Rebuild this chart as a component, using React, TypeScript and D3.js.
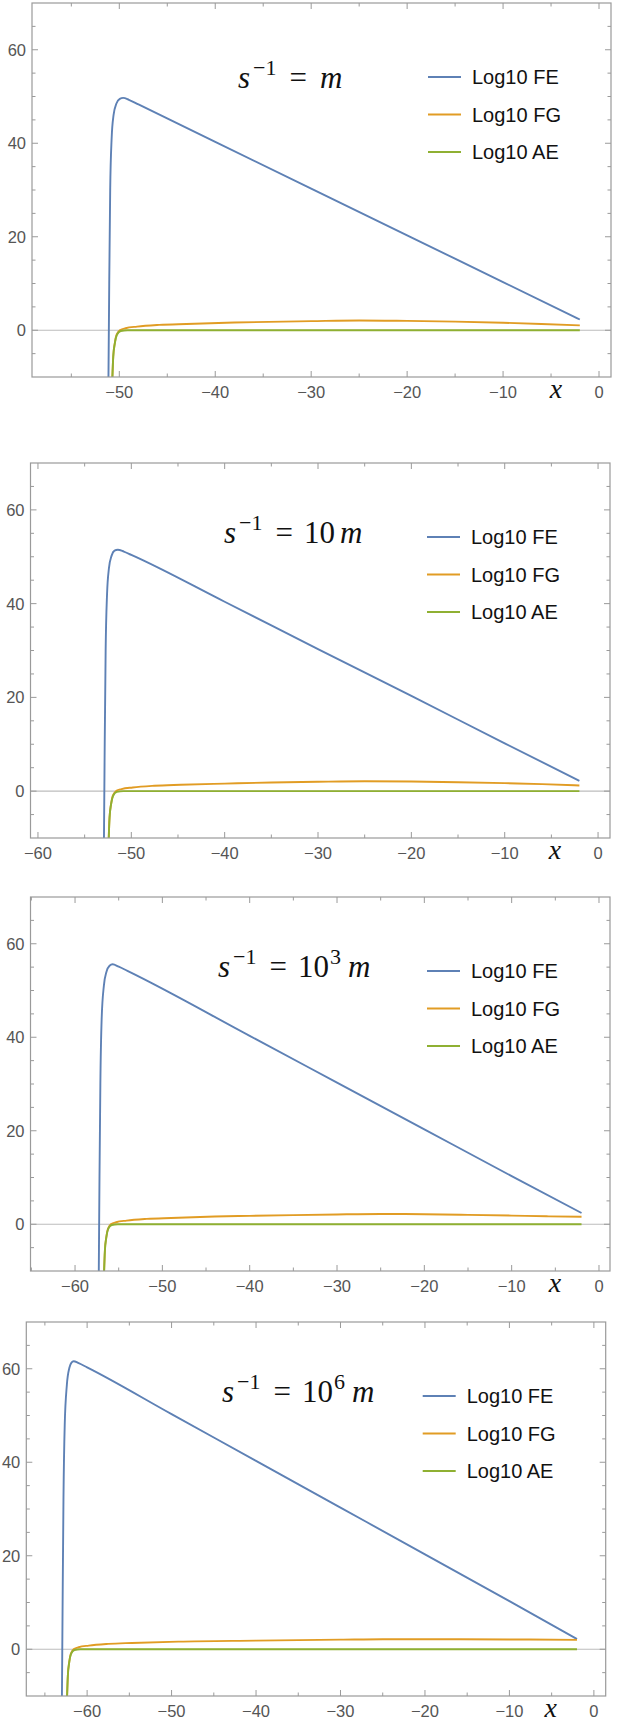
import React, { useEffect, useRef } from 'react';
import * as d3 from 'd3';

type Pt = [number, number];

// series labels and colours (Mathematica default palette)
const seriesNames = ['Log10 FE', 'Log10 FG', 'Log10 AE'];
const seriesColors = ['#5e81b5', '#e19c24', '#8fb032'];

// title pieces: s^-1 = <coef>^<exp> m
const titleCoef = ['', '10', '10', '10'];
const titleExp = ['', '', '3', '6'];

const xDomains: [number, number][] = [[-59.1, 1.25], [-60.8, 1.28], [-65.1, 1.26], [-67.2, 1.4]];
const yDomain: [number, number] = [-10, 70];
const yLabelTicks = [0, 20, 40, 60];

// s^-1 = m
const fe1: Pt[] = [[-51.15, -15], [-51.05, 10], [-50.95, 30], [-50.8, 41], [-50.6, 46], [-50.3, 48.5], [-49.95, 49.5], [-49.6, 49.7], [-49.0, 49.3], [-48, 48.3], [-40, 40.3], [-30, 30.3], [-20, 20.3], [-10, 10.3], [-2, 2.3]];
const fg1: Pt[] = [[-50.8, -15], [-50.63, -5.6], [-50.47, -2.8], [-50.27, -0.9], [-49.9, 0.05], [-49.35, 0.43], [-48.15, 0.78], [-45.85, 1.14], [-43, 1.35], [-38, 1.65], [-30, 1.95], [-25, 2.1], [-20, 2.0], [-15, 1.85], [-10, 1.6], [-6, 1.35], [-2, 1.05]];
const ae1: Pt[] = [[-50.8, -15], [-50.63, -5.6], [-50.47, -2.8], [-50.25, -1.0], [-49.85, -0.15], [-49.15, 0], [-2, 0]];

// s^-1 = 10 m
const fe2: Pt[] = [[-52.95, -15], [-52.85, 10], [-52.75, 30], [-52.6, 42], [-52.4, 47.5], [-52.1, 50.3], [-51.8, 51.3], [-51.45, 51.5], [-50.8, 51.1], [-50, 50.4], [-40, 40.4], [-30, 30.3], [-20, 20.3], [-10, 10.2], [-2, 2.2]];
const fg2: Pt[] = [[-52.5, -15], [-52.33, -5.6], [-52.17, -2.8], [-51.97, -0.9], [-51.6, 0.05], [-51.05, 0.43], [-49.85, 0.78], [-47.55, 1.14], [-44.7, 1.35], [-40, 1.6], [-35, 1.85], [-30, 2.0], [-25, 2.1], [-20, 2.05], [-15, 1.9], [-10, 1.7], [-6, 1.5], [-2, 1.2]];
const ae2: Pt[] = [[-52.5, -15], [-52.33, -5.6], [-52.17, -2.8], [-51.95, -1.0], [-51.55, -0.15], [-50.85, 0], [-2, 0]];

// s^-1 = 10^3 m
const fe3: Pt[] = [[-57.3, -15], [-57.2, 10], [-57.1, 30], [-56.95, 44], [-56.7, 51], [-56.4, 54], [-56.05, 55.3], [-55.7, 55.6], [-55, 55.1], [-54, 54.2], [-40, 40.3], [-30, 30.3], [-20, 20.3], [-10, 10.3], [-2, 2.4]];
const fg3: Pt[] = [[-56.75, -15], [-56.58, -5.6], [-56.42, -2.8], [-56.22, -0.9], [-55.85, 0.05], [-55.3, 0.43], [-54.1, 0.78], [-51.8, 1.14], [-49, 1.35], [-44, 1.65], [-40, 1.8], [-35, 1.95], [-30, 2.1], [-25, 2.2], [-20, 2.15], [-15, 2.0], [-10, 1.85], [-6, 1.7], [-2, 1.6]];
const ae3: Pt[] = [[-56.75, -15], [-56.58, -5.6], [-56.42, -2.8], [-56.2, -1.0], [-55.8, -0.15], [-55.1, 0], [-2, 0]];

// s^-1 = 10^6 m
const fe4: Pt[] = [[-63.0, -15], [-62.9, 10], [-62.8, 32], [-62.65, 48], [-62.4, 56.5], [-62.1, 60.2], [-61.85, 61.3], [-61.6, 61.6], [-61, 61.2], [-60, 60.3], [-50, 50.3], [-40, 40.3], [-30, 30.3], [-20, 20.3], [-10, 10.3], [-2, 2.2]];
const fg4: Pt[] = [[-62.45, -15], [-62.28, -5.6], [-62.12, -2.8], [-61.92, -0.9], [-61.55, 0.05], [-61.0, 0.43], [-59.8, 0.78], [-57.5, 1.14], [-54.7, 1.35], [-49.2, 1.64], [-40, 1.85], [-30, 2.05], [-25, 2.15], [-20, 2.15], [-10, 2.1], [-2, 2.0]];
const ae4: Pt[] = [[-62.45, -15], [-62.28, -5.6], [-62.12, -2.8], [-61.9, -1.0], [-61.5, -0.15], [-60.8, 0], [-2, 0]];

const panelSeries: Pt[][][] = [[fe1, fg1, ae1], [fe2, fg2, ae2], [fe3, fg3, ae3], [fe4, fg4, ae4]];

// frame boxes in page pixels
const frames = [
  { left: 32, right: 611, top: 3, bottom: 377, titleX: 238, titleY: 88 },
  { left: 30.5, right: 610, top: 463, bottom: 838, titleX: 224, titleY: 543 },
  { left: 30.5, right: 610, top: 897, bottom: 1271, titleX: 218, titleY: 977 },
  { left: 26.3, right: 605.7, top: 1322, bottom: 1696, titleX: 222, titleY: 1402 },
];

const W = 621;
const H = 1730;

export default function App() {
  const svgRef = useRef<SVGSVGElement>(null);

  useEffect(() => {
    if (!svgRef.current) return;
    const svg = d3.select(svgRef.current);
    svg.selectAll('*').remove();

    const colors = { frame: '#9a9a9a', axis: '#bdbdbd', tick: '#555555', text: '#111111' };
    const sans = '"Liberation Sans", Arial, sans-serif';
    const serif = '"Liberation Serif", "Times New Roman", serif';

    frames.forEach((f, i) => {
      const x = d3.scaleLinear().domain(xDomains[i]).range([f.left, f.right]);
      const y = d3.scaleLinear().domain(yDomain).range([f.bottom, f.top]);
      const g = svg.append('g');

      const clipId = `clip-${i}`;
      g.append('clipPath').attr('id', clipId)
        .append('rect').attr('x', f.left).attr('y', f.top).attr('width', f.right - f.left).attr('height', f.bottom - f.top);

      // horizontal axis at y = 0
      g.append('line').attr('x1', f.left).attr('x2', f.right).attr('y1', y(0)).attr('y2', y(0))
        .attr('stroke', colors.axis).attr('stroke-width', 1.2);

      const line = d3.line<Pt>().x(d => x(d[0])).y(d => y(d[1])).curve(d3.curveMonotoneX);
      const lines = g.append('g').attr('clip-path', `url(#${clipId})`);
      panelSeries[i].forEach((s, k) => {
        lines.append('path').attr('d', line(s)!).attr('fill', 'none')
          .attr('stroke', seriesColors[k]).attr('stroke-width', 1.9).attr('stroke-linejoin', 'round');
      });

      // frame
      g.append('rect').attr('x', f.left).attr('y', f.top).attr('width', f.right - f.left).attr('height', f.bottom - f.top)
        .attr('fill', 'none').attr('stroke', colors.frame).attr('stroke-width', 1.2);

      // ticks inside frame on all four sides
      const [x0, x1] = xDomains[i];
      const xTicks = d3.range(-70, 1, 5).filter(v => v >= x0 && v <= x1);
      const yTicks = d3.range(-10, 71, 5).filter(v => v > yDomain[0] && v < yDomain[1]);
      const tk = g.append('g').attr('stroke', colors.frame).attr('stroke-width', 1);
      xTicks.forEach(v => {
        const len = v % 10 === 0 ? 6 : 3.5;
        tk.append('line').attr('x1', x(v)).attr('x2', x(v)).attr('y1', f.bottom).attr('y2', f.bottom - len);
        tk.append('line').attr('x1', x(v)).attr('x2', x(v)).attr('y1', f.top).attr('y2', f.top + len);
      });
      yTicks.forEach(v => {
        const len = v % 20 === 0 ? 6 : 3.5;
        tk.append('line').attr('y1', y(v)).attr('y2', y(v)).attr('x1', f.left).attr('x2', f.left + len);
        tk.append('line').attr('y1', y(v)).attr('y2', y(v)).attr('x1', f.right).attr('x2', f.right - len);
      });

      // tick labels
      xTicks.filter(v => v % 10 === 0).forEach(v => {
        g.append('text').attr('x', x(v)).attr('y', f.bottom + 21).attr('text-anchor', 'middle')
          .attr('fill', colors.tick).style('font-family', sans).style('font-size', '16.5px')
          .text(v < 0 ? `\u2212${-v}` : `${v}`);
      });
      yLabelTicks.forEach(v => {
        g.append('text').attr('x', f.left - 6).attr('y', y(v) + 6).attr('text-anchor', 'end')
          .attr('fill', colors.tick).style('font-family', sans).style('font-size', '16.5px')
          .text(`${v}`);
      });

      // x axis label
      g.append('text').attr('x', f.right - 55).attr('y', f.bottom + 21).attr('text-anchor', 'middle')
        .attr('fill', colors.text).style('font-family', serif).style('font-style', 'italic').style('font-size', '28px')
        .text('x');

      // title s^{-1} = ... m
      const t = g.append('text').attr('x', f.titleX).attr('y', f.titleY).attr('fill', colors.text)
        .style('font-family', serif).style('font-size', '31px');
      t.append('tspan').style('font-style', 'italic').text('s');
      t.append('tspan').attr('dx', 3).attr('dy', -13).style('font-size', '22px').text('\u22121');
      t.append('tspan').attr('dx', 13).attr('dy', 13).text('=');
      if (titleCoef[i]) {
        t.append('tspan').attr('dx', 11).text(titleCoef[i]);
        if (titleExp[i]) {
          t.append('tspan').attr('dx', 1).attr('dy', -13).style('font-size', '22px').text(titleExp[i]);
          t.append('tspan').attr('dx', 7).attr('dy', 13).style('font-style', 'italic').text('m');
        } else {
          t.append('tspan').attr('dx', 5).style('font-style', 'italic').text('m');
        }
      } else {
        t.append('tspan').attr('dx', 13).style('font-style', 'italic').text('m');
      }

      // legend
      const rows = [74, 111.5, 149];
      seriesNames.forEach((name, k) => {
        const ly = f.top + rows[k];
        g.append('line').attr('x1', f.right - 183).attr('x2', f.right - 150).attr('y1', ly).attr('y2', ly)
          .attr('stroke', seriesColors[k]).attr('stroke-width', 1.9);
        g.append('text').attr('x', f.right - 139).attr('y', ly + 7).attr('fill', colors.text)
          .style('font-family', sans).style('font-size', '20px').text(name);
      });
    });
  }, []);

  return (
    <svg ref={svgRef} width={W} height={H} viewBox={`0 0 ${W} ${H}`}
      style={{ position: 'absolute', left: 0, top: 0, background: '#fff' }} />
  );
}
